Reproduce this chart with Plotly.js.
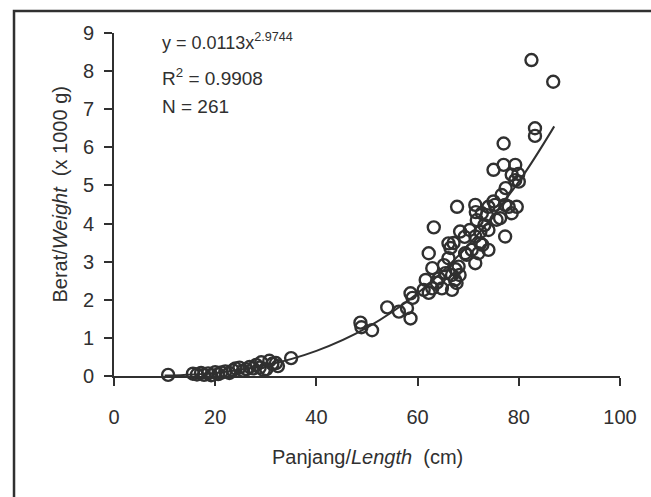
<!DOCTYPE html>
<html>
<head>
<meta charset="utf-8">
<script src="https://cdn.plot.ly/plotly-3.0.1.min.js"></script>
<style>
  html, body { margin: 0; padding: 0; background: #ffffff; }
  #chart { width: 651px; height: 497px; }
</style>
</head>
<body>
<div id="chart"></div>
<script>
// Observed points: length (cm) and weight (x 1000 g)
const lengthCm = [
  10.7, 15.6, 16.4, 17.2, 17.8, 18.6, 19.2, 20.0, 20.6, 21.2, 22.0, 22.8, 23.5, 24.0, 24.8,
  25.5, 26.2, 26.8, 27.5, 28.1, 28.8, 29.1, 29.6, 30.1, 30.7, 31.3, 32.0, 32.4, 35.0,
  48.7, 48.9, 51.0, 54.0, 56.3, 57.9, 58.6, 58.6, 59.0,
  61.2, 61.6, 62.2, 62.2, 62.9, 62.9, 63.2, 63.8, 64.2, 64.8, 65.2, 65.5, 66.1, 66.1, 66.5,
  66.8, 66.8, 67.1, 67.4, 67.5, 67.7, 67.8, 68.1, 68.3, 68.4, 69.3, 69.4, 69.7, 70.3, 70.7,
  71.4, 71.4, 71.4, 71.5, 71.7, 72.0, 72.4, 72.4, 72.7, 72.8, 73.2, 73.7, 74.0, 74.0, 74.0,
  75.0, 75.0, 75.3, 75.6, 76.3, 76.6, 77.0, 77.0, 77.3, 77.3, 77.4, 78.0, 78.6, 78.6, 79.3,
  79.3, 79.6, 79.9, 80.0, 82.5, 83.2, 83.2, 86.8
];
const weightKg = [
  0.03, 0.06, 0.04, 0.08, 0.03, 0.07, 0.02, 0.10, 0.05, 0.09, 0.12, 0.08, 0.15, 0.20, 0.22,
  0.14, 0.18, 0.24, 0.20, 0.29, 0.22, 0.36, 0.15, 0.18, 0.40, 0.32, 0.34, 0.26, 0.47,
  1.40, 1.28, 1.20, 1.80, 1.69, 1.78, 2.17, 1.51, 2.05,
  2.26, 2.52, 2.18, 3.22, 2.83, 2.30, 3.90, 2.45, 2.56, 2.30, 2.91, 2.70, 3.48, 3.09, 3.36,
  2.65, 2.26, 3.49, 2.52, 2.80, 2.44, 4.44, 2.87, 2.65, 3.79, 3.65, 3.22, 3.18, 3.83, 3.31,
  4.49, 3.66, 2.96, 4.30, 4.09, 3.22, 3.48, 3.78, 4.27, 3.44, 3.96, 4.22, 3.83, 3.31, 4.44,
  4.58, 5.41, 4.49, 4.10, 4.14, 4.75, 6.10, 5.54, 4.49, 3.66, 4.93, 4.44, 5.28, 4.27, 5.54,
  5.14, 4.44, 5.30, 5.10, 8.29, 6.50, 6.30, 7.72
];
// Fitted curve
const curveX = [10, 20, 30, 40, 50, 60, 70, 80, 87];
const curveY = [0.01, 0.08, 0.28, 0.66, 1.27, 2.17, 3.43, 5.10, 6.55];

const xTicks = [0, 20, 40, 60, 80, 100];
const yTicks = [0, 1, 2, 3, 4, 5, 6, 7, 8, 9];
const statLines = ['y = 0.0113x<sup>2.9744</sup>', 'R<sup>2</sup> = 0.9908', 'N = 261'];
const statY = [8.77, 7.85, 7.06];
const xTitle = 'Panjang/<i>Length</i>  (cm)';
const yTitle = 'Berat/<i>Weight</i>  (x 1000 g)';

const FONT = '"Liberation Sans", Arial, sans-serif';
const INK = '#303030';

const traces = [
  {
    x: curveX, y: curveY, type: 'scatter', mode: 'lines',
    line: { color: INK, width: 2, shape: 'spline', smoothing: 1 },
    hoverinfo: 'skip', cliponaxis: false
  },
  {
    x: lengthCm, y: weightKg, type: 'scatter', mode: 'markers',
    marker: { symbol: 'circle-open', size: 12, color: INK, line: { color: INK, width: 2.4 } },
    cliponaxis: false
  }
];

const annotations = statLines.map((t, i) => ({
  x: 9.1, y: statY[i], xref: 'x', yref: 'y', text: t, showarrow: false,
  xanchor: 'left', yanchor: 'middle', font: { family: FONT, size: i === 0 ? 18 : 19, color: INK }
}));
annotations.push({
  x: 0.5, y: -0.236, xref: 'paper', yref: 'paper', text: xTitle, showarrow: false,
  xanchor: 'center', yanchor: 'middle', font: { family: FONT, size: 20, color: INK }
});
annotations.push({
  x: -0.1075, y: 0.528, xref: 'paper', yref: 'paper', text: yTitle, showarrow: false,
  textangle: -90, xanchor: 'center', yanchor: 'middle', font: { family: FONT, size: 20, color: INK }
});

const layout = {
  width: 651, height: 497,
  margin: { l: 114, r: 31, t: 33, b: 121, pad: 0 },
  paper_bgcolor: '#ffffff', plot_bgcolor: '#ffffff',
  showlegend: false,
  font: { family: FONT, color: INK, size: 20 },
  xaxis: {
    range: [0, 100], tickvals: xTicks, ticktext: xTicks.map(String),
    showgrid: false, zeroline: false, showline: true, linecolor: INK, linewidth: 2,
    ticks: 'outside', ticklen: 8, tickwidth: 2, tickcolor: INK,
    ticklabelstandoff: 14,
    tickfont: { family: FONT, size: 20, color: INK }
  },
  yaxis: {
    range: [0, 9], tickvals: yTicks, ticktext: yTicks.map(String),
    showgrid: false, zeroline: false, showline: true, linecolor: INK, linewidth: 2,
    ticks: 'outside', ticklen: 8, tickwidth: 2, tickcolor: INK,
    ticklabelstandoff: 6,
    tickfont: { family: FONT, size: 20, color: INK }
  },
  annotations: annotations,
  shapes: [
    { type: 'rect', xref: 'paper', yref: 'paper', x0: -0.1976, x1: 1.08, y0: -0.38, y1: 1.064,
      line: { color: INK, width: 2.5 }, fillcolor: 'rgba(0,0,0,0)', layer: 'below' }
  ]
};

Plotly.newPlot('chart', traces, layout, { displayModeBar: false, staticPlot: true });
</script>
</body>
</html>
